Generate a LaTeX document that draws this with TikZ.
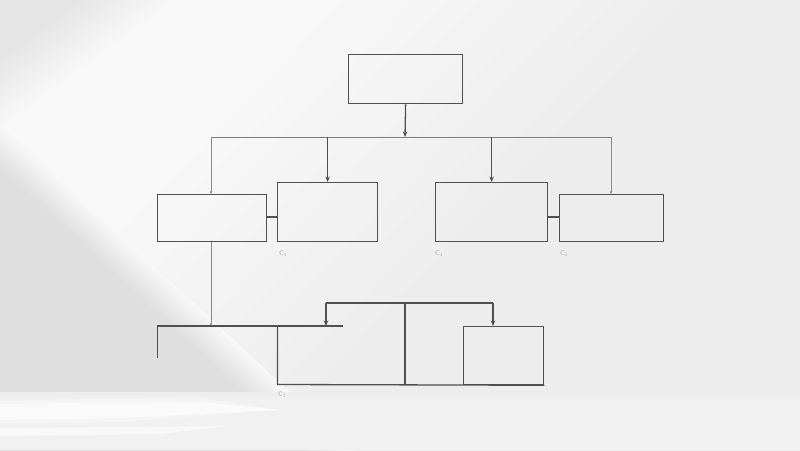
\documentclass[tikz,border=0pt]{standalone}
\usetikzlibrary{arrows.meta}
\definecolor{ln}{HTML}{505050}
\definecolor{lnl}{HTML}{8A8A8A}
\definecolor{bright}{HTML}{F8F8F8}
\definecolor{mid}{HTML}{EDEDED}
\definecolor{corner}{HTML}{E5E5E5}
\definecolor{shadow}{HTML}{DFDFDF}
\definecolor{floorc}{HTML}{F1F1F1}
\definecolor{lab}{HTML}{B3B3B3}
\begin{document}
\begin{tikzpicture}[x=1pt,y=-1pt,
  boxst/.style={draw=ln,line width=1.25pt,inner sep=0pt,anchor=north west},
  wire/.style={draw=ln,line width=1.3pt},
  midwire/.style={draw=lnl!80!ln,line width=1pt},
  thinwire/.style={draw=lnl,line width=0.8pt},
  arr/.style={-{Stealth[length=5.5pt,width=4.5pt]}},
  tinyarr/.style={-{Stealth[length=3pt,width=2.5pt]}},
  lbl/.style={text=lab,font=\sffamily\fontsize{7}{7}\selectfont,inner sep=0pt}]
\useasboundingbox (0,0) rectangle (800,450);
% ---------- background ----------
\begin{scope}
\clip (0,0) rectangle (800,450);
\fill[bright] (0,0) rectangle (800,450);
% right edge of the light beam
\begin{scope}[transform canvas={rotate around={46.2:(340,0)}}]
  \shade[top color=bright,bottom color=mid] (-900,-10) rectangle (1200,260);
  \fill[mid] (-900,260) rectangle (1200,1200);
\end{scope}
% upper-left corner
\begin{scope}[transform canvas={rotate around={36.3:(0,125)}}]
  \fill[corner] (-900,-900) rectangle (1200,70);
  \shade[top color=corner,bottom color=bright] (-900,70) rectangle (1200,128);
\end{scope}
% lower-left shadow
\begin{scope}[transform canvas={rotate around={-42.8:(0,140)}}]
  \shade[top color=bright,bottom color=shadow] (-900,128) rectangle (1200,160);
  \fill[shadow] (-900,160) rectangle (1200,1200);
\end{scope}
% floor
\shade[top color=mid,bottom color=floorc] (0,392) rectangle (800,400);
\fill[floorc] (0,400) rectangle (800,450);
\foreach \o/\w in {0.3/4,0.5/0}{
  \fill[white,opacity=\o] (0,404-\w) -- (200,402-\w) -- (280,410) -- (120,418+\w) -- (0,420+\w) -- cycle;}
\fill[white,opacity=0.5] (0,428) -- (230,426) -- (160,434) -- (0,436) -- cycle;
\end{scope}
% ---------- boxes ----------
\node[boxst,minimum width=114pt,minimum height=49pt] (top) at (348,54) {};
\node[boxst,minimum width=109pt,minimum height=47pt] (b1) at (157,194) {};
\node[boxst,minimum width=100pt,minimum height=59pt] (b2) at (277,182) {};
\node[boxst,minimum width=112pt,minimum height=59pt] (b3) at (435,182) {};
\node[boxst,minimum width=104pt,minimum height=47pt] (b4) at (559,194) {};
\node[boxst,minimum width=80pt,minimum height=58pt] (b6) at (463,326) {};
% ---------- bus ----------
\coordinate (busL) at (211,137);
\coordinate (busM) at (405,137);
\coordinate (busR) at (611,137);
\draw[midwire] (busL) -- (busR);
\draw[wire,arr] (top.south) -- (busM);
\draw[thinwire,tinyarr] (busL) -- (busL |- b1.north);
\draw[wire,arr] (b2.north |- busL) -- (b2.north);
\draw[wire,arr] (b3.north |- busL) -- (b3.north);
\draw[thinwire,tinyarr] (busR) -- (busR |- b4.north);
% side links
\draw[wire] (b1.east |- 0,217) -- (b2.west |- 0,217);
\draw[wire] (b3.east |- 0,217) -- (b4.west |- 0,217);
% labels
\node[lbl] (l1) at (283,254) {C\textsubscript{1}};
\node[lbl] (l2) at (439,254) {C\textsubscript{1}};
\node[lbl] (l3) at (564,254) {C\textsubscript{2}};
\node[lbl] (l4) at (282,395) {C\textsubscript{1}};
% ---------- lower structure ----------
\coordinate (d1) at (211,326);
\coordinate (hL) at (157.5,326);
\coordinate (hR) at (343,326);
\coordinate (hLd) at (157.5,358);
\coordinate (b5tl) at (277.5,326);
\coordinate (b5bl) at (277.5,384.5);
\coordinate (midT) at (405,303);
\coordinate (midB) at (405,384.5);
\coordinate (brL) at (326,303);
\coordinate (brR) at (493,303);
\draw[thinwire,tinyarr] (b1.south -| busL) -- (d1);
\draw[wire] (hLd) -- (hL) -- (hR);
\draw[wire] (b5tl) -- (b5bl) -- (b6.south east);
\draw[wire] (midT) -- (midB);
\draw[wire] (brL) -- (brR);
\draw[wire,arr] (brL) -- (brL |- hL);
\draw[wire,arr] (brR) -- (brR |- b6.north);
\end{tikzpicture}
\end{document}
